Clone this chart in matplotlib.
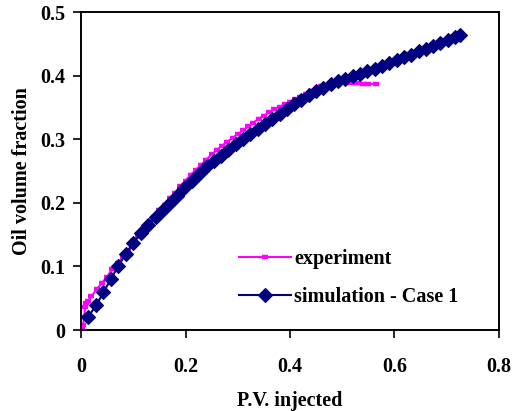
import matplotlib
matplotlib.use("Agg")
import matplotlib.pyplot as plt

# experiment: oil volume fraction vs pore volumes injected
exp_pv = [0.000, 0.002, 0.004, 0.006, 0.008, 0.010, 0.014, 0.020, 0.030, 0.040,
          0.050, 0.060, 0.070, 0.080, 0.090, 0.100, 0.110, 0.120, 0.130, 0.140,
          0.150, 0.160, 0.170, 0.180, 0.190, 0.200, 0.210, 0.220, 0.230, 0.240,
          0.250, 0.260, 0.270, 0.280, 0.290, 0.300, 0.310, 0.320, 0.330, 0.340,
          0.350, 0.360, 0.370, 0.380, 0.390, 0.400, 0.410, 0.420, 0.430, 0.440,
          0.450, 0.460, 0.470, 0.480, 0.490, 0.500, 0.510, 0.520, 0.530, 0.540,
          0.550, 0.565]
exp_oil = [0.000, 0.003, 0.008, 0.020, 0.036, 0.042, 0.046, 0.053, 0.064, 0.074,
           0.084, 0.096, 0.105, 0.115, 0.125, 0.137, 0.148, 0.158, 0.168, 0.178,
           0.188, 0.197, 0.207, 0.216, 0.226, 0.235, 0.244, 0.252, 0.260, 0.268,
           0.276, 0.283, 0.290, 0.296, 0.302, 0.308, 0.314, 0.320, 0.326, 0.332,
           0.337, 0.342, 0.347, 0.351, 0.355, 0.359, 0.363, 0.367, 0.371, 0.375,
           0.379, 0.383, 0.386, 0.389, 0.390, 0.390, 0.389, 0.388, 0.388, 0.387,
           0.387, 0.387]

# simulation - Case 1
sim_pv = [0.014, 0.029, 0.043, 0.057, 0.071, 0.086, 0.100, 0.115, 0.129, 0.143,
          0.157, 0.170, 0.184, 0.198, 0.212, 0.226, 0.240, 0.254, 0.268, 0.282,
          0.296, 0.310, 0.324, 0.338, 0.352, 0.366, 0.380, 0.394, 0.408, 0.422,
          0.436, 0.450, 0.464, 0.478, 0.492, 0.506, 0.520, 0.534, 0.548, 0.562,
          0.576, 0.590, 0.604, 0.618, 0.632, 0.646, 0.660, 0.674, 0.688, 0.702,
          0.716, 0.725]
sim_oil = [0.021, 0.039, 0.059, 0.080, 0.100, 0.120, 0.137, 0.152, 0.165, 0.177,
           0.188, 0.199, 0.211, 0.223, 0.235, 0.246, 0.256, 0.265, 0.274, 0.283,
           0.292, 0.300, 0.308, 0.316, 0.324, 0.332, 0.340, 0.348, 0.356, 0.362,
           0.369, 0.375, 0.381, 0.387, 0.391, 0.395, 0.399, 0.403, 0.407, 0.411,
           0.415, 0.420, 0.424, 0.429, 0.433, 0.438, 0.442, 0.447, 0.452, 0.456,
           0.461, 0.464]

plt.rcParams['font.family'] = ['Liberation Serif', 'DejaVu Serif']
plt.rcParams['font.weight'] = 'bold'
fs = 14.5

fig = plt.figure(figsize=(5.17, 4.11), dpi=100)
ax = fig.add_axes([81 / 517, 81 / 411, 418 / 517, 318 / 411])

ax.plot(exp_pv, exp_oil, color='#FF00FF', lw=1.5, marker='_', ms=4.5, mew=3.2,
        label='experiment', zorder=2)
ax.plot(sim_pv, sim_oil, color='#000080', lw=1.5, marker='D', ms=7.0, mew=0.8,
        mec='#000080', mfc='#000080', label='simulation - Case 1', zorder=3)

ax.set_xlim(0, 0.8)
ax.set_ylim(0, 0.5)
ax.set_xticks([0, 0.2, 0.4, 0.6, 0.8])
ax.set_xticklabels(['0', '0.2', '0.4', '0.6', '0.8'])
ax.set_yticks([0, 0.1, 0.2, 0.3, 0.4, 0.5])
ax.set_yticklabels(['0', '0.1', '0.2', '0.3', '0.4', '0.5'])
ax.tick_params(axis='both', direction='out', length=5.5, width=1.2,
               labelsize=fs, color='black')
ax.tick_params(axis='x', pad=14)
ax.tick_params(axis='y', pad=6)
for sp in ax.spines.values():
    sp.set_linewidth(1.4)

ax.set_xlabel('P.V. injected', fontsize=fs, fontweight='bold', labelpad=10)
ax.set_ylabel('Oil volume fraction', fontsize=fs, fontweight='bold', labelpad=6)

ax.legend(loc='center left', bbox_to_anchor=(0.378, 0.164), frameon=False,
          fontsize=fs, borderpad=0, borderaxespad=0, handlelength=2.6,
          handletextpad=0.15, labelspacing=0.89)

fig.savefig('out.png', dpi=100)
